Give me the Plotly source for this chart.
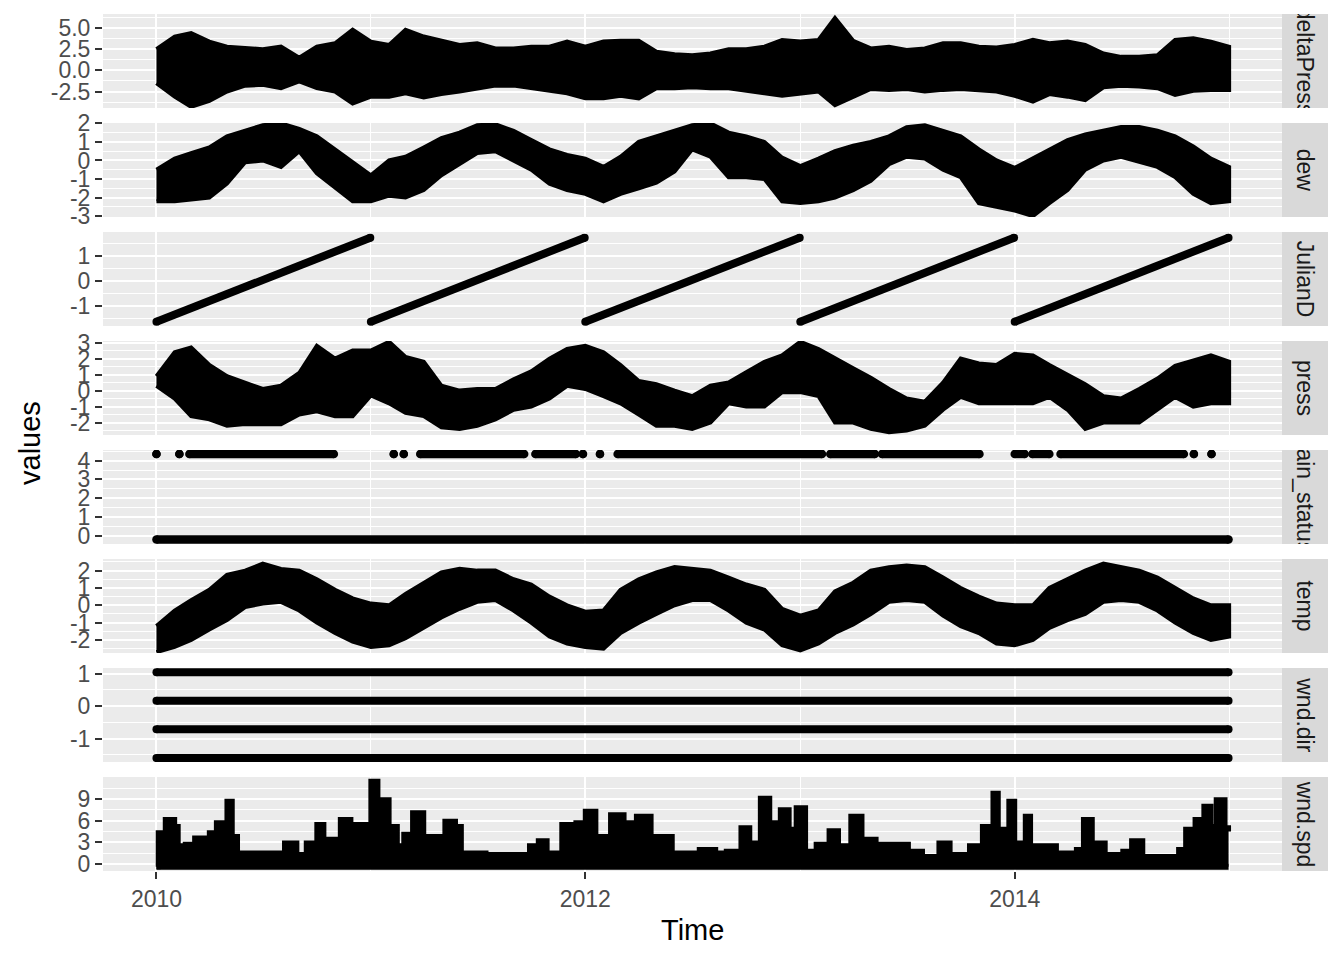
import plotly.graph_objects as go
import pandas as pd

# ---------------- data ----------------
PANEL_NAMES = ["deltaPress", "dew", "JulianD", "press", "rain_status", "temp", "wnd.dir", "wnd.spd"]

# monthly grid for the dense, noisy series (start of each month, 2010-01 .. 2015-01)
MONTHS = pd.date_range("2010-01-01", periods=61, freq="MS").strftime("%Y-%m-%d").tolist()

deltaPress_hi = [2.5, 4.0, 4.4, 3.4, 2.8, 2.7, 2.5, 2.8, 1.5, 2.8,
                 3.2, 4.8, 3.4, 3.0, 4.8, 4.0, 3.5, 3.0, 3.2, 2.6,
                 2.6, 2.8, 2.8, 3.4, 2.8, 3.4, 3.5, 3.5, 2.2, 1.9,
                 1.8, 2.0, 2.5, 2.5, 2.8, 3.6, 3.4, 3.6, 6.2, 3.5,
                 2.6, 2.8, 2.4, 2.6, 3.2, 3.2, 2.8, 2.7, 3.0, 3.6,
                 3.2, 3.4, 3.0, 2.0, 1.6, 1.6, 1.8, 3.6, 3.8, 3.4, 2.8]
deltaPress_lo = [-1.5, -3.1, -4.3, -3.6, -2.5, -1.8, -1.7, -2.1, -1.3, -2.1,
                 -2.5, -3.9, -3.1, -3.1, -2.7, -3.2, -2.8, -2.5, -2.2, -1.8,
                 -1.8, -2.1, -2.4, -2.7, -3.3, -3.3, -3.0, -3.3, -2.1, -2.1,
                 -2.0, -2.1, -2.1, -2.4, -2.7, -3.0, -2.8, -2.5, -4.1, -3.1,
                 -2.2, -2.3, -2.2, -2.5, -2.3, -2.2, -2.4, -2.5, -3.0, -3.7,
                 -2.8, -3.1, -3.5, -2.0, -1.8, -1.9, -2.1, -2.9, -2.4, -2.3, -2.3]

dew_hi = [-0.5, 0.1, 0.4, 0.7, 1.3, 1.6, 1.9, 2.0, 1.7, 1.3,
          0.6, -0.1, -0.8, 0.0, 0.2, 0.7, 1.2, 1.5, 1.9, 1.95,
          1.6, 1.1, 0.6, 0.3, 0.1, -0.35, 0.2, 1.0, 1.3, 1.6,
          1.9, 2.0, 1.5, 1.3, 1.0, 0.15, -0.3, 0.1, 0.5, 0.8,
          1.0, 1.3, 1.8, 1.9, 1.6, 1.3, 0.6, 0.0, -0.4, 0.1,
          0.6, 1.1, 1.4, 1.6, 1.8, 1.8, 1.6, 1.3, 0.75, 0.1, -0.35]
dew_lo = [-2.2, -2.2, -2.1, -2.0, -1.25, -0.1, 0.0, -0.35, 0.5, -0.7,
          -1.45, -2.2, -2.2, -1.9, -2.0, -1.6, -0.8, -0.2, 0.4, 0.5,
          0.0, -0.5, -1.25, -1.6, -1.8, -2.2, -1.8, -1.5, -1.2, -0.6,
          0.6, 0.2, -0.9, -0.9, -1.0, -2.2, -2.3, -2.2, -2.0, -1.6,
          -1.1, -0.2, 0.2, 0.1, -0.5, -0.9, -2.3, -2.5, -2.7, -3.0,
          -2.3, -1.6, -0.5, 0.0, 0.2, -0.1, -0.35, -0.9, -1.8, -2.3, -2.2]

press_hi = [0.9, 2.4, 2.7, 1.6, 0.9, 0.5, 0.1, 0.3, 1.1, 2.8,
            2.0, 2.5, 2.5, 3.05, 2.1, 1.8, 0.3, 0.0, 0.1, 0.1,
            0.7, 1.2, 2.0, 2.6, 2.8, 2.4, 1.6, 0.6, 0.4, 0.0,
            -0.35, 0.3, 0.5, 1.15, 1.8, 2.2, 3.05, 2.6, 2.0, 1.4,
            0.8, 0.1, -0.5, -0.7, 0.5, 2.0, 1.7, 1.6, 2.3, 2.2,
            1.6, 1.0, 0.4, -0.35, -0.5, 0.1, 0.75, 1.55, 1.9, 2.2, 1.8]
press_lo = [0.3, -0.5, -1.6, -1.8, -2.2, -2.1, -2.1, -2.1, -1.5, -1.3,
            -1.6, -1.6, -0.3, -0.8, -1.4, -1.6, -2.3, -2.4, -2.2, -1.8,
            -1.2, -1.0, -0.5, 0.3, 0.1, -0.35, -0.8, -1.5, -2.2, -2.2,
            -2.4, -2.0, -0.8, -1.0, -1.0, -0.1, -0.1, -0.35, -2.0, -2.0,
            -2.4, -2.6, -2.5, -2.2, -1.2, -0.4, -0.8, -0.8, -0.8, -0.8,
            -0.4, -1.2, -2.4, -2.0, -2.0, -2.0, -1.2, -0.4, -1.0, -0.8, -0.8]

temp_hi = [-1.2, -0.3, 0.3, 0.9, 1.75, 2.0, 2.4, 2.1, 2.0, 1.5,
           0.9, 0.4, 0.1, 0.0, 0.65, 1.3, 1.9, 2.1, 2.0, 2.0,
           1.5, 1.2, 0.5, 0.0, -0.37, -0.3, 0.9, 1.5, 1.9, 2.2,
           2.1, 2.0, 1.6, 1.2, 0.9, -0.2, -0.6, -0.3, 0.8, 1.3,
           2.0, 2.2, 2.3, 2.2, 1.6, 1.0, 0.5, 0.1, 0.0, 0.0,
           1.0, 1.5, 2.0, 2.4, 2.2, 2.0, 1.6, 1.0, 0.4, 0.0, 0.0]
temp_lo = [-2.7, -2.4, -2.0, -1.4, -0.85, -0.1, 0.1, 0.2, -0.3, -1.0,
           -1.6, -2.1, -2.4, -2.3, -1.9, -1.3, -0.7, -0.2, 0.2, 0.3,
           -0.3, -1.0, -1.8, -2.2, -2.4, -2.5, -1.6, -1.0, -0.5, 0.0,
           0.3, 0.3, -0.3, -1.0, -1.4, -2.3, -2.6, -2.2, -1.6, -1.1,
           -0.5, 0.2, 0.3, 0.2, -0.6, -1.2, -1.6, -2.2, -2.3, -2.0,
           -1.3, -0.85, -0.5, 0.2, 0.3, 0.2, -0.3, -1.0, -1.6, -2.0, -1.8]

# JulianD: one straight ramp per year
julian_years = [2010, 2011, 2012, 2013, 2014]
julian_start = -1.63
julian_end = 1.73

# rain_status: two levels, high level present on these date spans
rain_low = -0.21
rain_high = 4.36
rain_start = ["2010-01-01", "2010-02-09", "2010-02-26", "2011-02-09", "2011-02-26",
              "2011-03-26", "2011-10-08", "2011-12-28", "2012-01-26", "2012-02-25",
              "2013-02-21", "2013-05-20", "2014-01-01", "2014-01-31", "2014-03-20",
              "2014-11-02", "2014-12-02"]
rain_end = ["2010-01-01", "2010-02-09", "2010-10-30", "2011-02-09", "2011-02-26",
            "2011-09-19", "2011-12-16", "2011-12-28", "2012-01-26", "2013-02-07",
            "2013-05-08", "2013-11-02", "2014-01-18", "2014-03-01", "2014-10-16",
            "2014-11-02", "2014-12-02"]

# wnd.dir: four discrete levels
wnd_dir_levels = [1.04, 0.16, -0.71, -1.6]

# wnd.spd: upper envelope (floor at the series minimum)
wnd_spd_min = -0.41
wnd_spd_dates = ["2010-01-01", "2010-01-04", "2010-01-16", "2010-02-01", "2010-02-07", "2010-02-19",
                 "2010-03-07", "2010-04-01", "2010-04-13", "2010-05-01", "2010-05-10", "2010-05-19",
                 "2010-06-22", "2010-08-07", "2010-08-28", "2010-09-13", "2010-10-01", "2010-10-13",
                 "2010-11-10", "2010-11-28", "2010-12-16", "2011-01-01", "2011-01-13", "2011-02-01",
                 "2011-02-15", "2011-02-26", "2011-03-13", "2011-04-01", "2011-04-16", "2011-05-07",
                 "2011-05-25", "2011-06-04", "2011-07-16", "2011-09-13", "2011-09-28", "2011-10-13",
                 "2011-10-28", "2011-11-22", "2011-12-16", "2012-01-01", "2012-01-19", "2012-02-13",
                 "2012-03-07", "2012-03-28", "2012-04-22", "2012-05-13", "2012-05-28", "2012-07-13",
                 "2012-08-10", "2012-08-28", "2012-09-22", "2012-10-07", "2012-10-25", "2012-11-10",
                 "2012-11-28", "2012-12-13", "2012-12-25", "2013-01-10", "2013-01-28", "2013-02-19",
                 "2013-03-07", "2013-03-28", "2013-04-16", "2013-05-10", "2013-07-04", "2013-07-28",
                 "2013-08-25", "2013-09-13", "2013-10-16", "2013-11-07", "2013-11-25", "2013-12-04",
                 "2013-12-22", "2014-01-01", "2014-01-19", "2014-01-28", "2014-02-28", "2014-03-13",
                 "2014-04-16", "2014-04-28", "2014-05-13", "2014-06-04", "2014-07-04", "2014-07-19",
                 "2014-08-07", "2014-09-25", "2014-10-07", "2014-10-19", "2014-11-04", "2014-11-19",
                 "2014-12-01", "2014-12-10", "2014-12-25", "2014-12-31"]
wnd_spd_top = [-0.41, 4.3, 6.15, 5.2, 2.5, 2.7,
               3.6, 4.3, 5.7, 8.7, 3.8, 1.5,
               1.5, 2.9, 1.3, 2.9, 5.45, 3.4,
               6.15, 5.45, 5.45, 11.46, 8.9, 5.2,
               2.5, 4.1, 7.1, 3.8, 3.8, 5.9,
               5.2, 1.5, 1.3, 1.3, 2.5, 3.2,
               1.5, 5.45, 5.7, 7.3, 3.8, 6.8,
               5.7, 6.6, 3.8, 3.8, 1.5, 2.0,
               1.5, 1.75, 5.0, 2.9, 9.1, 5.7,
               7.5, 4.8, 7.8, 1.75, 2.7, 4.6,
               2.5, 6.6, 3.4, 2.7, 1.75, 1.0,
               2.9, 1.3, 2.5, 5.2, 9.8, 4.8,
               8.7, 2.9, 6.6, 2.5, 2.5, 1.5,
               2.0, 6.15, 2.9, 1.3, 1.75, 3.2,
               1.0, 1.0, 2.0, 4.8, 6.15, 8.0,
               5.2, 8.9, 5.0, 4.5]

# axis ranges / ticks per panel
Y_RANGES = [[-4.44, 6.66], [-3.05, 2.02], [-1.8, 1.96], [-2.78, 3.1],
            [-0.45, 4.57], [-2.75, 2.67], [-1.72, 1.17], [-1.0, 12.06]]
Y_TICKVALS = [[-2.5, 0, 2.5, 5], [-3, -2, -1, 0, 1, 2], [-1, 0, 1], [-2, -1, 0, 1, 2, 3],
              [0, 1, 2, 3, 4], [-2, -1, 0, 1, 2], [-1, 0, 1], [0, 3, 6, 9]]
Y_TICKTEXT = [["-2.5", "0.0", "2.5", "5.0"], ["-3", "-2", "-1", "0", "1", "2"], ["-1", "0", "1"],
              ["-2", "-1", "0", "1", "2", "3"], ["0", "1", "2", "3", "4"], ["-2", "-1", "0", "1", "2"],
              ["-1", "0", "1"], ["0", "3", "6", "9"]]
Y_MINOR = [[-3.75, -1.25, 1.25, 3.75, 6.25], [-2.5, -1.5, -0.5, 0.5, 1.5], [-1.5, -0.5, 0.5, 1.5],
           [-2.5, -1.5, -0.5, 0.5, 1.5, 2.5], [0.5, 1.5, 2.5, 3.5, 4.5], [-2.5, -1.5, -0.5, 0.5, 1.5, 2.5],
           [-1.5, -0.5, 0.5], [1.5, 4.5, 7.5, 10.5]]
X_RANGE = ["2009-10-02", "2015-04-01"]

# ---------------- layout geometry (pixels) ----------------
W, H = 1344, 960
PX_L, PX_R = 103, 1282
STRIP_R = 1328
TOP0, STEP, PH = 14, 109, 94
FONT = "Liberation Sans, Arial, sans-serif"
BLACK = "#000000"
TICK_SIZE = 23
TITLE_SIZE = 29

fig = go.Figure()


def ax(i):
    return ("x" if i == 0 else f"x{i+1}"), ("y" if i == 0 else f"y{i+1}")


def band(i, dates, hi, lo, width=4):
    xa, ya = ax(i)
    xs = list(dates) + list(dates)[::-1]
    ys = list(hi) + list(lo)[::-1]
    fig.add_trace(go.Scatter(x=xs, y=ys, mode="lines", fill="toself", fillcolor=BLACK,
                             line=dict(color=BLACK, width=width), xaxis=xa, yaxis=ya,
                             hoverinfo="skip", showlegend=False))


band(0, MONTHS, deltaPress_hi, deltaPress_lo)
band(1, MONTHS, dew_hi, dew_lo)
band(3, MONTHS, press_hi, press_lo)
band(5, MONTHS, temp_hi, temp_lo)

# JulianD ramps
xa, ya = ax(2)
jx, jy = [], []
for yr in julian_years:
    jx += [f"{yr}-01-01", f"{yr}-12-31", None]
    jy += [julian_start, julian_end, None]
fig.add_trace(go.Scatter(x=jx, y=jy, mode="lines+markers", line=dict(color=BLACK, width=8),
                         marker=dict(color=BLACK, size=8), xaxis=xa, yaxis=ya,
                         hoverinfo="skip", showlegend=False))

# rain_status
xa, ya = ax(4)
rx, ry = ["2010-01-01", "2014-12-31", None], [rain_low, rain_low, None]
for s, e in zip(rain_start, rain_end):
    rx += [s, e, None]
    ry += [rain_high, rain_high, None]
fig.add_trace(go.Scatter(x=rx, y=ry, mode="lines+markers", line=dict(color=BLACK, width=8.5),
                         marker=dict(color=BLACK, size=8.5), xaxis=xa, yaxis=ya,
                         hoverinfo="skip", showlegend=False))

# wnd.dir
xa, ya = ax(6)
wx, wy = [], []
for lv in wnd_dir_levels:
    wx += ["2010-01-01", "2014-12-31", None]
    wy += [lv, lv, None]
fig.add_trace(go.Scatter(x=wx, y=wy, mode="lines+markers", line=dict(color=BLACK, width=8),
                         marker=dict(color=BLACK, size=8), xaxis=xa, yaxis=ya,
                         hoverinfo="skip", showlegend=False))

# wnd.spd
xa, ya = ax(7)
fig.add_trace(go.Scatter(x=[wnd_spd_dates[0], wnd_spd_dates[-1]], y=[wnd_spd_min, wnd_spd_min],
                         mode="lines", line=dict(color=BLACK, width=6), xaxis=xa, yaxis=ya,
                         hoverinfo="skip", showlegend=False))
fig.add_trace(go.Scatter(x=wnd_spd_dates, y=wnd_spd_top, mode="lines", line_shape="hv",
                         fill="tonexty", fillcolor=BLACK, line=dict(color=BLACK, width=5),
                         xaxis=xa, yaxis=ya, hoverinfo="skip", showlegend=False))

layout = dict(
    width=W, height=H, margin=dict(l=0, r=0, t=0, b=0, pad=0, autoexpand=False),
    paper_bgcolor="white", plot_bgcolor="#EBEBEB", showlegend=False,
    font=dict(family=FONT, color="#4D4D4D", size=TICK_SIZE),
)
annotations = []
for i in range(8):
    top = TOP0 + STEP * i
    bot = top + PH
    xkey = "xaxis" if i == 0 else f"xaxis{i+1}"
    ykey = "yaxis" if i == 0 else f"yaxis{i+1}"
    xa, ya = ax(i)
    bottom = (i == 7)
    layout[xkey] = dict(
        domain=[PX_L / W, PX_R / W], anchor=ya, type="date", range=X_RANGE, automargin=False,
        tick0="2010-01-01", dtick="M24", tickformat="%Y",
        showgrid=True, gridcolor="white", gridwidth=2.4, zeroline=False, showline=False,
        minor=dict(showgrid=True, gridcolor="white", gridwidth=1.1, dtick="M12", tick0="2010-01-01"),
        showticklabels=bottom, ticks="outside" if bottom else "",
        ticklen=7, tickwidth=2, tickcolor="#333333",
        tickfont=dict(size=TICK_SIZE, color="#4D4D4D", family=FONT),
    )
    if i > 0:
        layout[xkey]["matches"] = "x"
    layout[ykey] = dict(
        domain=[1 - bot / H, 1 - top / H], anchor=xa, range=Y_RANGES[i], automargin=False,
        tickmode="array", tickvals=Y_TICKVALS[i], ticktext=Y_TICKTEXT[i],
        showgrid=True, gridcolor="white", gridwidth=2.4, zeroline=False, showline=False,
        minor=dict(tickmode="array", tickvals=Y_MINOR[i], showgrid=True, gridcolor="white", gridwidth=1.1),
        ticks="outside", ticklen=7, tickwidth=2, tickcolor="#333333",
        tickfont=dict(size=TICK_SIZE, color="#4D4D4D", family=FONT),
    )
    # facet strip
    annotations.append(dict(
        xref="paper", yref="paper", x=(PX_R + STRIP_R) / 2 / W, y=1 - (top + bot) / 2 / H,
        xanchor="center", yanchor="middle", text=PANEL_NAMES[i], textangle=90,
        width=PH, height=STRIP_R - PX_R, bgcolor="#D9D9D9", borderpad=0, borderwidth=0,
        showarrow=False, font=dict(size=TICK_SIZE, color="#1A1A1A", family=FONT),
    ))

annotations.append(dict(xref="paper", yref="paper", x=(PX_L + PX_R) / 2 / W, y=1 - 930 / H,
                        xanchor="center", yanchor="middle", text="Time", showarrow=False,
                        font=dict(size=TITLE_SIZE, color="black", family=FONT)))
annotations.append(dict(xref="paper", yref="paper", x=30 / W, y=1 - 443 / H,
                        xanchor="center", yanchor="middle", text="values", textangle=-90,
                        showarrow=False, font=dict(size=TITLE_SIZE, color="black", family=FONT)))
layout["annotations"] = annotations

fig.update_layout(**layout)
fig.write_html("out.html")
